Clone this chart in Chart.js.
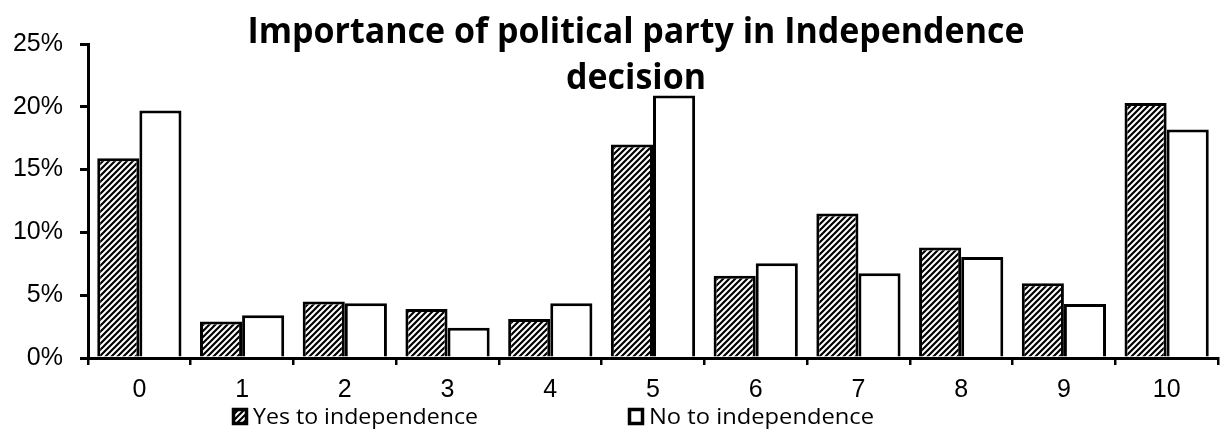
<!DOCTYPE html>
<html>
<head>
<meta charset="utf-8">
<script src="https://cdn.jsdelivr.net/npm/chart.js@4.4.1/dist/chart.umd.min.js"></script>
<style>
html,body{margin:0;padding:0;background:#fff;}
#wrap{width:1223px;height:430px;position:relative;}
</style>
</head>
<body>
<div id="wrap"><canvas id="c" width="1223" height="430"></canvas></div>
<script>
const categories = ['0','1','2','3','4','5','6','7','8','9','10'];
const yesValues = [15.9, 2.9, 4.5, 3.9, 3.1, 17.0, 6.55, 11.5, 8.8, 5.95, 20.3];
const noValues  = [19.7, 3.4, 4.35, 2.4, 4.35, 20.9, 7.55, 6.75, 8.05, 4.3, 18.2];
const yTicks = [0, 5, 10, 15, 20, 25];
const seriesNames = ['Yes to independence', 'No to independence'];
const titleLines = ['Importance of political party in Independence', 'decision'];

function makeHatch() {
  const s = 6;
  const c = document.createElement('canvas');
  c.width = s; c.height = s;
  const g = c.getContext('2d');
  g.fillStyle = '#fff'; g.fillRect(0, 0, s, s);
  g.strokeStyle = '#000'; g.lineWidth = 2.2;
  g.beginPath();
  g.moveTo(-1, s + 1); g.lineTo(s + 1, -1);
  g.moveTo(-1, 1); g.lineTo(1, -1);
  g.moveTo(s - 1, s + 1); g.lineTo(s + 1, s - 1);
  g.stroke();
  return document.getElementById('c').getContext('2d').createPattern(c, 'repeat');
}
const hatch = makeHatch();

const titlePlugin = {
  id: 'customTitle',
  beforeDatasetsDraw(chart) {
    const ctx = chart.ctx;
    ctx.save();
    ctx.fillStyle = '#000';
    ctx.textAlign = 'center';
    ctx.textBaseline = 'alphabetic';
    ctx.font = 'bold 36px "Open Sans", sans-serif';
    const w = ctx.measureText(titleLines[0]).width;
    const sx = 777 / w;
    const cx = 636;
    const baselines = [43, 89];
    titleLines.forEach((t, i) => {
      ctx.save();
      ctx.translate(cx, baselines[i]);
      ctx.scale(sx, 1);
      ctx.fillText(t, 0, 0);
      ctx.restore();
    });
    ctx.restore();
  }
};

const legendPlugin = {
  id: 'customLegend',
  afterDraw(chart) {
    const ctx = chart.ctx;
    ctx.save();
    const items = [{x: 232, fill: hatch, name: seriesNames[0]}, {x: 628, fill: '#fff', name: seriesNames[1]}];
    items.forEach(it => {
      ctx.fillStyle = it.fill;
      ctx.fillRect(it.x, 408, 16, 17);
      ctx.strokeStyle = '#000';
      ctx.lineWidth = 3.5;
      ctx.strokeRect(it.x + 1.5, 409.5, 13, 14);
      ctx.fillStyle = '#000';
      ctx.font = '22px "Open Sans", sans-serif';
      ctx.textBaseline = 'alphabetic';
      ctx.textAlign = 'left';
      const tw = ctx.measureText(it.name).width;
      ctx.save();
      ctx.translate(it.x + 21, 424);
      ctx.scale(225 / tw, 1);
      ctx.fillText(it.name, 0, 0);
      ctx.restore();
    });
    ctx.restore();
  }
};

new Chart(document.getElementById('c'), {
  type: 'bar',
  data: {
    labels: categories,
    datasets: [
      {label: seriesNames[0], data: yesValues, backgroundColor: hatch, borderColor: '#000', borderWidth: 3, borderSkipped: 'bottom'},
      {label: seriesNames[1], data: noValues, backgroundColor: '#fff', borderColor: '#000', borderWidth: 3, borderSkipped: 'bottom'}
    ]
  },
  options: {
    responsive: false,
    animation: false,
    devicePixelRatio: 1,
    categoryPercentage: 0.82,
    barPercentage: 1.0,
    layout: {padding: {top: 44, right: 5, left: 0, bottom: 0}},
    plugins: {legend: {display: false}, title: {display: false}, tooltip: {enabled: false}},
    scales: {
      x: {
        grid: {display: true, drawOnChartArea: false, drawTicks: true, tickLength: 7, color: '#000', lineWidth: 2.5, offset: true},
        border: {display: true, color: '#000', width: 3},
        ticks: {color: '#000', font: {family: '"Liberation Sans", Arial, sans-serif', size: 25}, padding: 10, maxRotation: 0},
        afterFit(scale) { scale.height = 72; }
      },
      y: {
        min: 0, max: 25,
        afterBuildTicks(scale) { scale.ticks = yTicks.map(v => ({value: v})); },
        grid: {display: true, drawOnChartArea: false, drawTicks: true, tickLength: 8, color: '#000', lineWidth: 3},
        border: {display: true, color: '#000', width: 3},
        ticks: {color: '#000', font: {family: '"Liberation Sans", Arial, sans-serif', size: 25}, padding: 17, callback: v => v + '%'},
        afterFit(scale) { scale.width = 88; }
      }
    }
  },
  plugins: [titlePlugin, legendPlugin]
});
</script>
</body>
</html>
